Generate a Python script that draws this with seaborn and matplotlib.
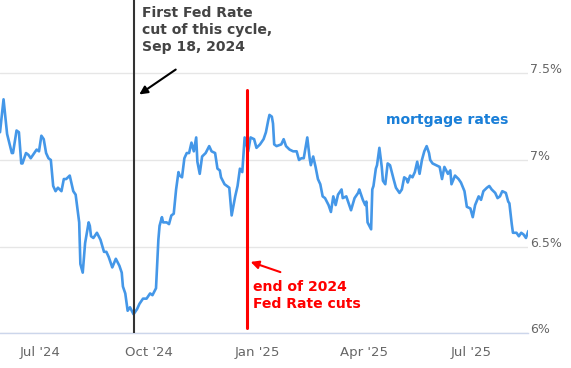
import matplotlib
matplotlib.use("Agg")
import matplotlib.pyplot as plt
import seaborn as sns
import pandas as pd

dates = [
    "2024-05-28", "2024-05-31", "2024-06-03", "2024-06-07", "2024-06-08", "2024-06-11", "2024-06-13",
    "2024-06-15", "2024-06-16", "2024-06-19", "2024-06-21", "2024-06-23", "2024-06-25", "2024-06-28",
    "2024-06-30", "2024-07-02", "2024-07-04", "2024-07-06", "2024-07-08", "2024-07-10", "2024-07-12",
    "2024-07-14", "2024-07-16", "2024-07-19", "2024-07-21", "2024-07-23", "2024-07-26", "2024-07-29",
    "2024-07-31", "2024-08-03", "2024-08-04", "2024-08-06", "2024-08-08", "2024-08-11", "2024-08-12",
    "2024-08-13", "2024-08-15", "2024-08-18", "2024-08-21", "2024-08-24", "2024-08-26", "2024-08-28",
    "2024-08-31", "2024-09-03", "2024-09-06", "2024-09-08", "2024-09-09", "2024-09-11", "2024-09-13",
    "2024-09-15", "2024-09-18", "2024-09-21", "2024-09-23", "2024-09-25", "2024-09-26", "2024-09-29",
    "2024-10-02", "2024-10-04", "2024-10-07", "2024-10-09", "2024-10-10", "2024-10-12", "2024-10-13",
    "2024-10-16", "2024-10-18", "2024-10-20", "2024-10-22", "2024-10-24", "2024-10-26", "2024-10-27",
    "2024-10-29", "2024-10-31", "2024-11-02", "2024-11-04", "2024-11-06", "2024-11-08", "2024-11-10",
    "2024-11-11", "2024-11-13", "2024-11-15", "2024-11-18", "2024-11-21", "2024-11-23", "2024-11-26",
    "2024-11-28", "2024-11-30", "2024-12-01", "2024-12-04", "2024-12-08", "2024-12-10", "2024-12-13",
    "2024-12-15", "2024-12-17", "2024-12-19", "2024-12-21", "2024-12-24", "2024-12-26", "2024-12-29",
    "2024-12-31", "2025-01-03", "2025-01-06", "2025-01-08", "2025-01-10", "2025-01-11", "2025-01-13",
    "2025-01-14", "2025-01-15", "2025-01-17", "2025-01-21", "2025-01-23", "2025-01-25", "2025-01-28",
    "2025-01-31", "2025-02-03", "2025-02-05", "2025-02-07", "2025-02-09", "2025-02-12", "2025-02-14",
    "2025-02-15", "2025-02-17", "2025-02-19", "2025-02-21", "2025-02-23", "2025-02-25", "2025-02-27",
    "2025-03-02", "2025-03-04", "2025-03-06", "2025-03-08", "2025-03-10", "2025-03-13", "2025-03-14",
    "2025-03-17", "2025-03-21", "2025-03-24", "2025-03-27", "2025-03-28", "2025-03-31", "2025-04-02",
    "2025-04-03", "2025-04-04", "2025-04-07", "2025-04-08", "2025-04-09", "2025-04-11", "2025-04-12",
    "2025-04-14", "2025-04-16", "2025-04-17", "2025-04-19", "2025-04-21", "2025-04-23", "2025-04-26",
    "2025-04-28", "2025-05-01", "2025-05-03", "2025-05-05", "2025-05-07", "2025-05-08", "2025-05-10",
    "2025-05-12", "2025-05-14", "2025-05-16", "2025-05-18", "2025-05-20", "2025-05-22", "2025-05-24",
    "2025-05-26", "2025-05-27", "2025-05-29", "2025-06-01", "2025-06-04", "2025-06-06", "2025-06-08",
    "2025-06-11", "2025-06-13", "2025-06-14", "2025-06-17", "2025-06-20", "2025-06-22", "2025-06-25",
    "2025-06-27", "2025-06-30", "2025-07-02", "2025-07-04", "2025-07-07", "2025-07-09", "2025-07-11",
    "2025-07-14", "2025-07-16", "2025-07-18", "2025-07-21", "2025-07-23", "2025-07-25", "2025-07-27",
    "2025-07-30", "2025-08-01", "2025-08-02", "2025-08-04", "2025-08-05", "2025-08-08", "2025-08-10",
    "2025-08-12", "2025-08-14", "2025-08-16", "2025-08-18",
]

rates = [
    7.16, 7.35, 7.15, 7.04, 7.04, 7.17, 7.16,
    6.98, 6.98, 7.04, 7.03, 7.01, 7.03, 7.06,
    7.05, 7.14, 7.12, 7.04, 7.01, 7.00, 6.85,
    6.82, 6.84, 6.82, 6.89, 6.89, 6.91, 6.82,
    6.80, 6.64, 6.40, 6.35, 6.52, 6.64, 6.62,
    6.56, 6.55, 6.58, 6.54, 6.47, 6.47, 6.44,
    6.38, 6.43, 6.39, 6.35, 6.27, 6.23, 6.13,
    6.15, 6.11, 6.14, 6.17, 6.19, 6.20, 6.20,
    6.23, 6.22, 6.26, 6.54, 6.62, 6.67, 6.64,
    6.64, 6.63, 6.68, 6.69, 6.83, 6.93, 6.91,
    6.90, 7.01, 7.04, 7.04, 7.10, 7.05, 7.13,
    6.99, 6.92, 7.02, 7.04, 7.08, 7.05, 7.04,
    6.95, 6.94, 6.90, 6.86, 6.84, 6.68, 6.79,
    6.85, 6.95, 6.93, 7.13, 7.05, 7.13, 7.12,
    7.07, 7.09, 7.12, 7.16, 7.23, 7.26, 7.25,
    7.21, 7.09, 7.08, 7.09, 7.12, 7.08, 7.06,
    7.05, 7.05, 7.00, 7.01, 7.01, 7.13, 7.01,
    6.97, 7.02, 6.96, 6.89, 6.86, 6.79, 6.78,
    6.74, 6.70, 6.79, 6.74, 6.80, 6.83, 6.78,
    6.79, 6.71, 6.78, 6.81, 6.83, 6.77, 6.74,
    6.76, 6.64, 6.60, 6.83, 6.85, 6.95, 6.97,
    7.07, 6.96, 6.88, 6.86, 6.98, 6.97, 6.89,
    6.84, 6.81, 6.83, 6.90, 6.89, 6.87, 6.91,
    6.90, 6.93, 6.99, 6.92, 7.00, 7.05, 7.08,
    7.04, 7.00, 6.98, 6.97, 6.96, 6.89, 6.96,
    6.92, 6.94, 6.86, 6.91, 6.89, 6.87, 6.82,
    6.73, 6.72, 6.67, 6.74, 6.79, 6.77, 6.82,
    6.84, 6.85, 6.83, 6.81, 6.78, 6.79, 6.82,
    6.81, 6.76, 6.75, 6.63, 6.58, 6.58, 6.56,
    6.58, 6.57, 6.55, 6.59,
]

tick_dates = ["2024-07-01", "2024-10-01", "2025-01-01", "2025-04-01", "2025-07-01"]
tick_labels = ["Jul '24", "Oct '24", "Jan '25", "Apr '25", "Jul '25"]
y_ticks = [6.0, 6.5, 7.0, 7.5]
y_labels = ["6%", "6.5%", "7%", "7.5%"]

first_cut_date = "2024-09-18"
end_cuts_date = "2024-12-23"

sns.set_style("white")
plt.rcParams["font.family"] = ["DejaVu Sans"]

df = pd.DataFrame({"date": pd.to_datetime(dates), "rate": rates})

W, H = 571, 368
fig = plt.figure(figsize=(W / 100, H / 100), dpi=100)
ax = fig.add_axes([0, 34.7 / H, 528.3 / W, 333.3 / H])

sns.lineplot(data=df, x="date", y="rate", ax=ax, color="#4497e8", linewidth=1.9, zorder=3)

ax.set_xlim(df["date"].iloc[0], df["date"].iloc[-1])
ax.set_ylim(6.0, 7.923)

ax.set_yticks(y_ticks)
ax.set_yticklabels(y_labels)
ax.yaxis.tick_right()
ax.grid(axis="y", color="#e6e6e6", linewidth=1)
ax.grid(axis="x", visible=False)
ax.tick_params(axis="y", length=0, pad=1, labelsize=9, labelcolor="#666666")
for lbl in ax.get_yticklabels():
    lbl.set_va("baseline")

ax.set_xticks(pd.to_datetime(tick_dates))
ax.set_xticklabels(tick_labels)
ax.tick_params(axis="x", length=7.2, width=1, color="#ccd6eb", pad=2,
               labelsize=9.5, labelcolor="#666666", direction="out")

for s in ["top", "left", "right"]:
    ax.spines[s].set_visible(False)
ax.spines["bottom"].set_color("#ccd6eb")
ax.spines["bottom"].set_linewidth(1)
ax.set_xlabel("")
ax.set_ylabel("")

ax.axvline(pd.Timestamp(first_cut_date), ymin=0, ymax=1, color="#333333", linewidth=1.5, zorder=4)
ax.axvline(pd.Timestamp(end_cuts_date), ymin=0.016, ymax=0.73, color="#ff0000", linewidth=2.2, zorder=4)

def fx(px):
    return px / 528.3

def fy(py):
    return (333.3 - py) / 333.3

ax.text(fx(142), fy(6), "First Fed Rate\ncut of this cycle,\nSep 18, 2024", transform=ax.transAxes,
        ha="left", va="top", fontsize=10.1, fontweight="bold", color="#444444", linespacing=1.27)
ax.annotate("", xy=(fx(137), fy(96)), xytext=(fx(178), fy(68)), xycoords="axes fraction",
            arrowprops=dict(arrowstyle="-|>", color="black", lw=1.5, mutation_scale=12))

ax.text(fx(447), fy(120), "mortgage rates", transform=ax.transAxes, ha="center", va="center",
        fontsize=10.1, fontweight="bold", color="#1a7fd8")

ax.text(fx(253), fy(280), "end of 2024\nFed Rate cuts", transform=ax.transAxes,
        ha="left", va="top", fontsize=10.1, fontweight="bold", color="#ff0000", linespacing=1.27)
ax.annotate("", xy=(fx(248), fy(261)), xytext=(fx(283), fy(273)), xycoords="axes fraction",
            arrowprops=dict(arrowstyle="-|>", color="#ff0000", lw=1.5, mutation_scale=12))

fig.savefig("out.png", dpi=100)
